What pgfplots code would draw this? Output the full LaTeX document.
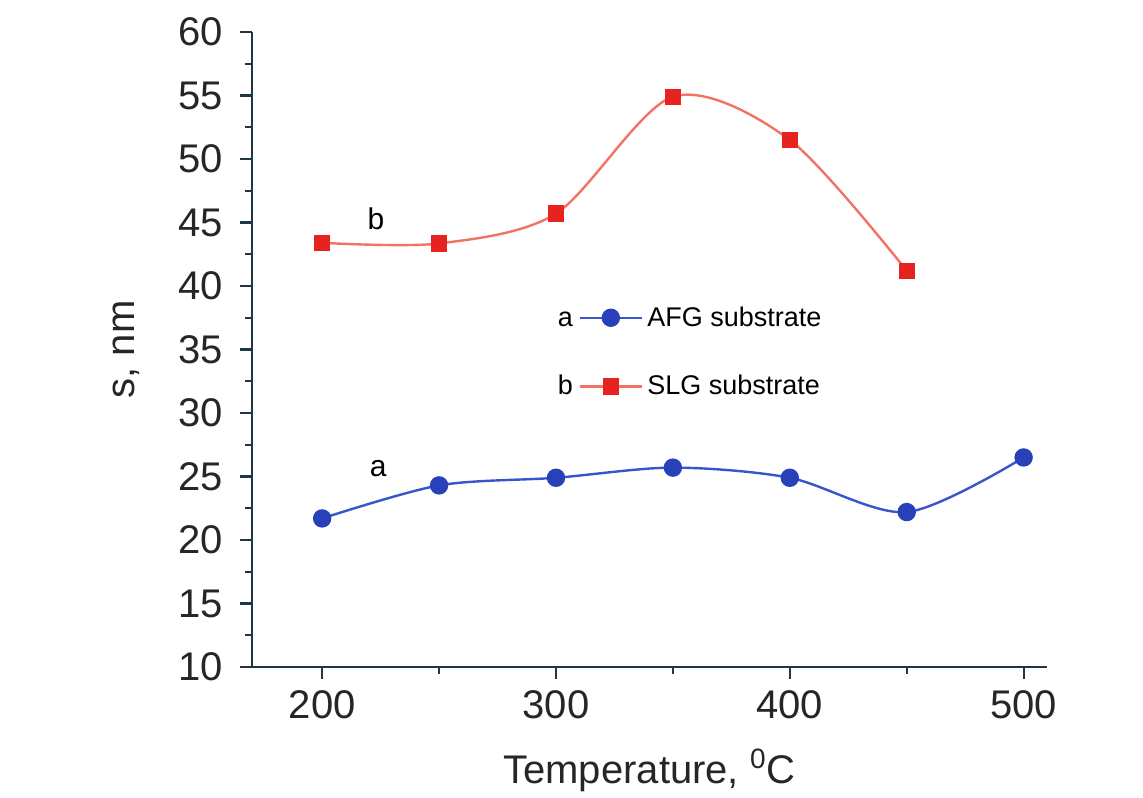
\documentclass[border=0pt]{standalone}
\usepackage{pgfplots}
\pgfplotsset{compat=1.18}
\usepackage{fontspec}
\setmainfont{Liberation Sans}
\definecolor{axcol}{RGB}{30,55,70}
\definecolor{bline}{RGB}{55,85,205}
\definecolor{bmark}{RGB}{40,65,185}
\definecolor{rline}{RGB}{242,115,100}
\definecolor{rmark}{RGB}{230,35,30}
\begin{document}
\begin{tikzpicture}
\begin{axis}[
  scale only axis, width=397.5pt, height=317.5pt,
  xmin=170, xmax=510, ymin=10, ymax=60,
  axis x line*=bottom, axis y line*=left,
  axis line style={axcol, line width=1.3pt},
  every tick/.style={axcol, line width=1.1pt},
  tick align=outside,
  major tick length=6pt, minor tick length=3.5pt,
  xtick={200,300,400,500}, minor xtick={250,350,450},
  ytick={10,15,...,60}, minor ytick={12.5,17.5,...,57.5},
  tick label style={font=\fontsize{20}{23}\selectfont, text=black!85},
  yticklabel style={xshift=-5pt},
  xticklabel style={yshift=-2pt},
  /pgf/number format/assume math mode=true,
  xlabel={Temperature, \textsuperscript{0}C},
  ylabel={s, nm},
  xlabel style={yshift=-8.5pt},
  ylabel style={yshift=12.5pt},
  label style={font=\fontsize{20}{24}\selectfont, text=black!85},
  legend cell align=left,
  legend style={draw=none, fill=none, at={(rel axis cs:0.41,0.496)}, anchor=west,
    font=\fontsize{13.5}{16}\selectfont, row sep=19pt, inner sep=0pt},
  legend image code/.code={\draw[mark repeat=2,mark phase=2] plot coordinates {(0cm,0cm)(0.55cm,0cm)(1.1cm,0cm)};},
]
\addplot[bline, line width=1.2pt, smooth, mark=*, mark size=4pt, mark options={fill=bmark, draw=bmark}]
  coordinates {(200,21.7) (250,24.3) (300,24.9) (350,25.7) (400,24.9) (450,22.2) (500,26.5)};
\addlegendentry{AFG substrate}
\addplot[rline, line width=1.2pt, smooth, mark=square*, mark size=3.5pt, mark options={fill=rmark, draw=rmark}]
  coordinates {(200,43.4) (250,43.35) (300,45.7) (350,54.9) (400,51.5) (450,41.2)};
\addlegendentry{SLG substrate}
\node[font=\fontsize{13.5}{16}\selectfont] at (axis cs:304,37.4) {a};
\node[font=\fontsize{13.5}{16}\selectfont] at (axis cs:304,32.2) {b};
\node[font=\fontsize{15}{18}\selectfont] at (axis cs:224,25.6) {a};
\node[font=\fontsize{15}{18}\selectfont] at (axis cs:223,45.3) {b};
\end{axis}
\pgfresetboundingbox
\path (-126pt,-65pt) rectangle (445.5pt,333.5pt);
\end{tikzpicture}
\end{document}
